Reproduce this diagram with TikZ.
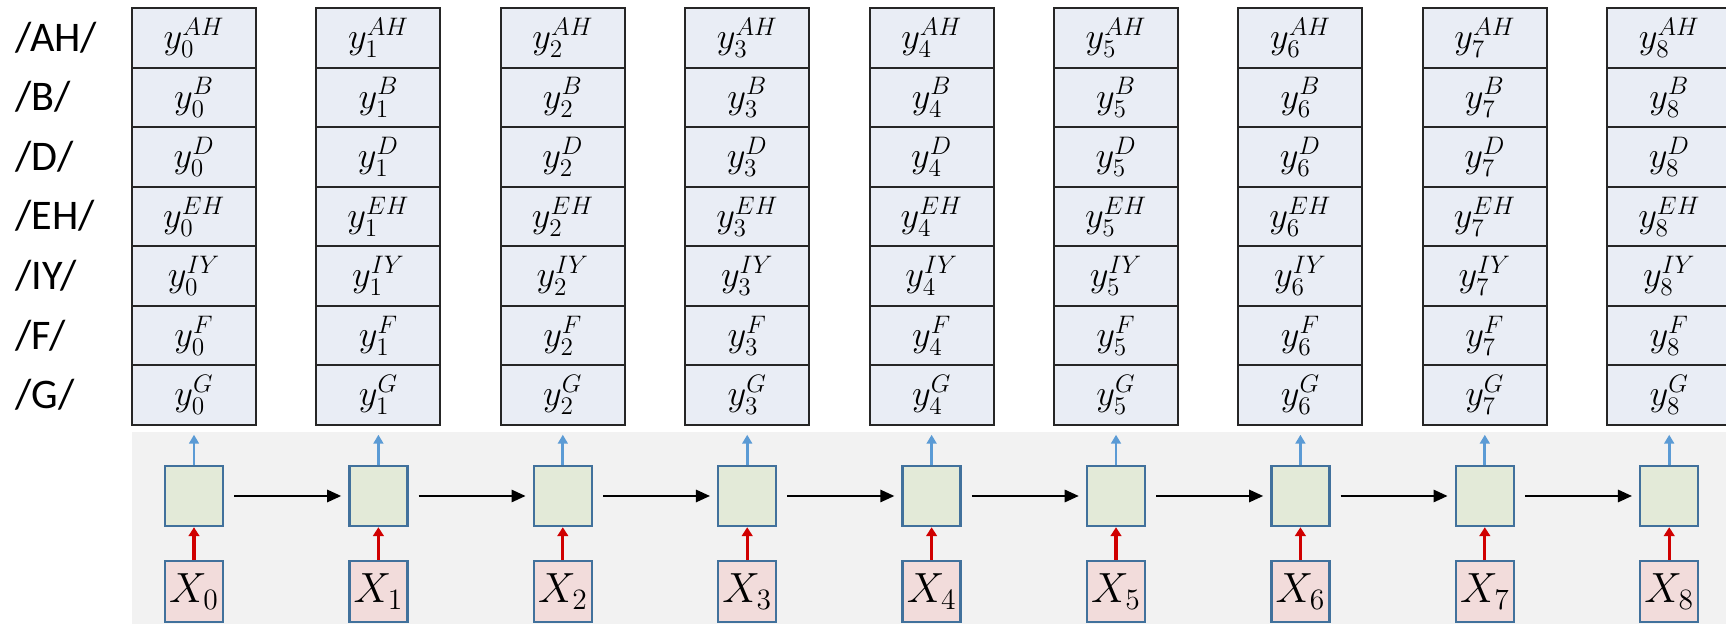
\RequirePackage{fix-cm}
\documentclass[tikz,border=0pt]{standalone}
\usepackage{fontspec}
\setmainfont{Carlito}
\usetikzlibrary{arrows.meta}

\definecolor{yfill}{HTML}{E9EDF5}
\definecolor{cellgreen}{HTML}{E3EAD8}
\definecolor{xpink}{HTML}{F2DCDB}
\definecolor{cellblue}{HTML}{41719C}
\definecolor{outblue}{HTML}{5B9BD5}
\definecolor{inred}{HTML}{D00000}
\definecolor{bggray}{HTML}{F2F2F2}

\tikzset{
  ybox/.style={draw=black!85, line width=1.1pt, fill=yfill, minimum width=2.48cm,
    minimum height=1.1914cm, inner sep=0pt, font=\fontsize{20.74}{24}\selectfont},
  cell/.style={draw=cellblue, line width=1.4pt, fill=cellgreen, minimum width=1.16cm,
    minimum height=1.2cm, inner sep=0pt},
  xbox/.style={cell, fill=xpink, minimum height=1.22cm, font=\fontsize{24}{28}\selectfont},
  phone/.style={anchor=base west, inner sep=0pt, font=\fontsize{24}{28}\selectfont},
  harr/.style={line width=1.2pt, -{Triangle[length=8pt,width=7pt]}},
  outarr/.style={draw=outblue, line width=1.6pt, -{Triangle[length=5pt,width=5.5pt]}},
  inarr/.style={draw=inred, line width=1.8pt, -{Triangle[length=5pt,width=6pt]}}
}

\begin{document}
\begin{tikzpicture}
	\useasboundingbox (0,0) rectangle (34.52,12.48);
	\fill [bggray] (2.64,0) rectangle (34.52,3.84);
	% phone labels
	\foreach \ph [count=\r from 0] in {AH,B,D,EH,IY,F,G} {
		\node [phone] (l\ph) at (0.3, 12.32-1.1914*\r-0.5957-0.27) {/\ph/};
	}
	% output columns
	\foreach \i in {0,...,8} {
		\foreach \ph [count=\r from 0] in {AH,B,D,EH,IY,F,G} {
			\node [ybox] (y\i\ph) at (3.88+3.688*\i, 12.32-1.1914*\r-0.5957) {$y_{\i}^{\ph}$};
		}
	}
	% recurrent cells and inputs
	\foreach \i in {0,...,8} {
		\node [cell] (h\i) at (3.88+3.688*\i, 2.56) {};
		\node [xbox] (x\i) at (3.88+3.688*\i, 0.65) {$X_{\i}$};
		\coordinate (o\i) at ([yshift=0.6cm]h\i.north);
		\draw [inarr] (x\i) -- (h\i);
		\draw [outarr] (h\i) -- (o\i);
	}
	\foreach \i [evaluate=\i as \j using int(\i+1)] in {0,...,7} {
		\draw [harr, shorten <=0.2cm, shorten >=0.14cm] (h\i) -- (h\j);
	}
\end{tikzpicture}
\end{document}
